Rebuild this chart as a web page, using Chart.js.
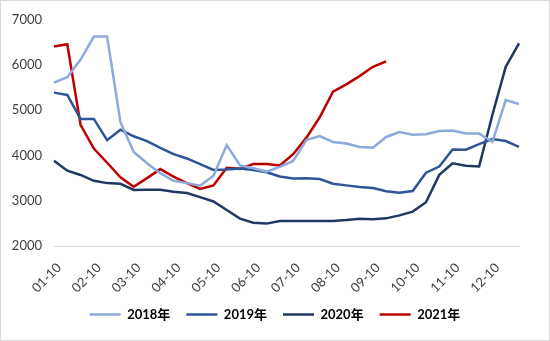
<!DOCTYPE html>
<html>
<head>
<meta charset="utf-8">
<script src="https://cdn.jsdelivr.net/npm/chart.js@4"></script>
<style>
  html, body { margin: 0; padding: 0; background: #fff; }
  #wrap { width: 550px; height: 341px; position: relative; }
</style>
</head>
<body>
<div id="wrap"><canvas id="chart" width="550" height="341"></canvas></div>
<script>
// ten-day points, one label shown per month
const categories = [
    '01-10','01-20','01-30','02-10','02-20','02-28','03-10','03-20','03-30',
    '04-10','04-20','04-30','05-10','05-20','05-30','06-10','06-20','06-30',
    '07-10','07-20','07-30','08-10','08-20','08-30','09-10','09-20','09-30',
    '10-10','10-20','10-30','11-10','11-20','11-30','12-10','12-20','12-30'
];
const seriesNames = ['2018年', '2019年', '2020年', '2021年'];

const values2018 = [5610, 5730, 6120, 6630, 6630, 4740, 4080, 3830, 3610,
    3440, 3390, 3335, 3550, 4230, 3780, 3720, 3645, 3750,
    3880, 4340, 4430, 4300, 4265, 4190, 4175, 4410, 4520,
    4460, 4470, 4540, 4555, 4485, 4485, 4300, 5225, 5140];
const values2019 = [5390, 5340, 4810, 4810, 4340, 4570, 4425, 4320, 4170,
    4030, 3935, 3810, 3680, 3690, 3715, 3680, 3630, 3535,
    3490, 3500, 3480, 3375, 3340, 3305, 3280, 3210, 3175,
    3215, 3620, 3755, 4135, 4130, 4250, 4365, 4320, 4190];
const values2020 = [3885, 3665, 3570, 3440, 3390, 3375, 3240, 3245, 3245,
    3200, 3170, 3080, 2985, 2795, 2605, 2515, 2495, 2550,
    2552, 2552, 2552, 2552, 2574, 2604, 2590, 2611, 2677,
    2760, 2967, 3572, 3827, 3776, 3760, 4900, 5960, 6480];
const values2021 = [6410, 6460, 4680, 4155, 3840, 3520, 3310, 3500, 3700,
    3535, 3390, 3260, 3340, 3730, 3705, 3810, 3810, 3780,
    4030, 4395, 4845, 5413, 5574, 5755, 5960, 6083];

const colors = ['#8eaadb', '#2f5597', '#1f3864', '#c00000'];
const fontFamily = "Lato, 'Noto Sans CJK SC', sans-serif";

let frame = {
    id: 'frame',
    afterDraw(chart) {
        const ctx = chart.ctx;
        ctx.save();
        ctx.strokeStyle = '#d9d9d9';
        ctx.lineWidth = 1;
        ctx.strokeRect(0.5, 0.5, chart.width - 1, chart.height - 1);
        ctx.restore();
    }
};

let makeSet = function(label, data, color) {
    return {
        label: label,
        data: data,
        borderColor: color,
        backgroundColor: color,
        borderWidth: 2.5,
        pointRadius: 0,
        pointHoverRadius: 0,
        fill: false,
        tension: 0
    };
};

new Chart(document.getElementById('chart').getContext('2d'), {
    type: 'line',
    data: {
        labels: categories,
        datasets: [
            makeSet(seriesNames[0], values2018, colors[0]),
            makeSet(seriesNames[1], values2019, colors[1]),
            makeSet(seriesNames[2], values2020, colors[2]),
            makeSet(seriesNames[3], values2021, colors[3])
        ]
    },
    options: {
        responsive: false,
        animation: false,
        layout: { padding: { top: 18, left: 0, right: 0, bottom: 10 } },
        plugins: {
            tooltip: { enabled: false },
            legend: {
                position: 'bottom',
                labels: {
                    usePointStyle: true,
                    pointStyle: 'line',
                    pointStyleWidth: 31,
                    boxHeight: 13,
                    padding: 16,
                    color: '#000',
                    font: { family: fontFamily, size: 13, weight: 'bold' }
                }
            }
        },
        scales: {
            x: {
                grid: { display: false, drawTicks: false },
                border: { display: true, color: '#d9d9d9', width: 1 },
                ticks: {
                    autoSkip: false,
                    minRotation: 45,
                    maxRotation: 45,
                    padding: 14,
                    labelOffset: 5,
                    color: '#404040',
                    font: { family: fontFamily, size: 13 },
                    callback: function(v, i) { return i % 3 === 0 ? categories[i] : ''; }
                },
                afterFit: function(scale) { scale.height = 46; }
            },
            y: {
                min: 2000,
                max: 7000,
                grid: { display: false, drawTicks: false },
                border: { display: false },
                ticks: {
                    stepSize: 1000,
                    padding: 12,
                    color: '#404040',
                    font: { family: fontFamily, size: 13 },
                    callback: function(v) { return String(v); }
                },
                afterFit: function(scale) { scale.width = 54; }
            },
            yRight: {
                position: 'right',
                display: true,
                grid: { display: false, drawTicks: false },
                border: { display: false },
                ticks: { display: false },
                afterFit: function(scale) { scale.width = 31; }
            }
        }
    },
    plugins: [frame]
});
</script>
</body>
</html>
